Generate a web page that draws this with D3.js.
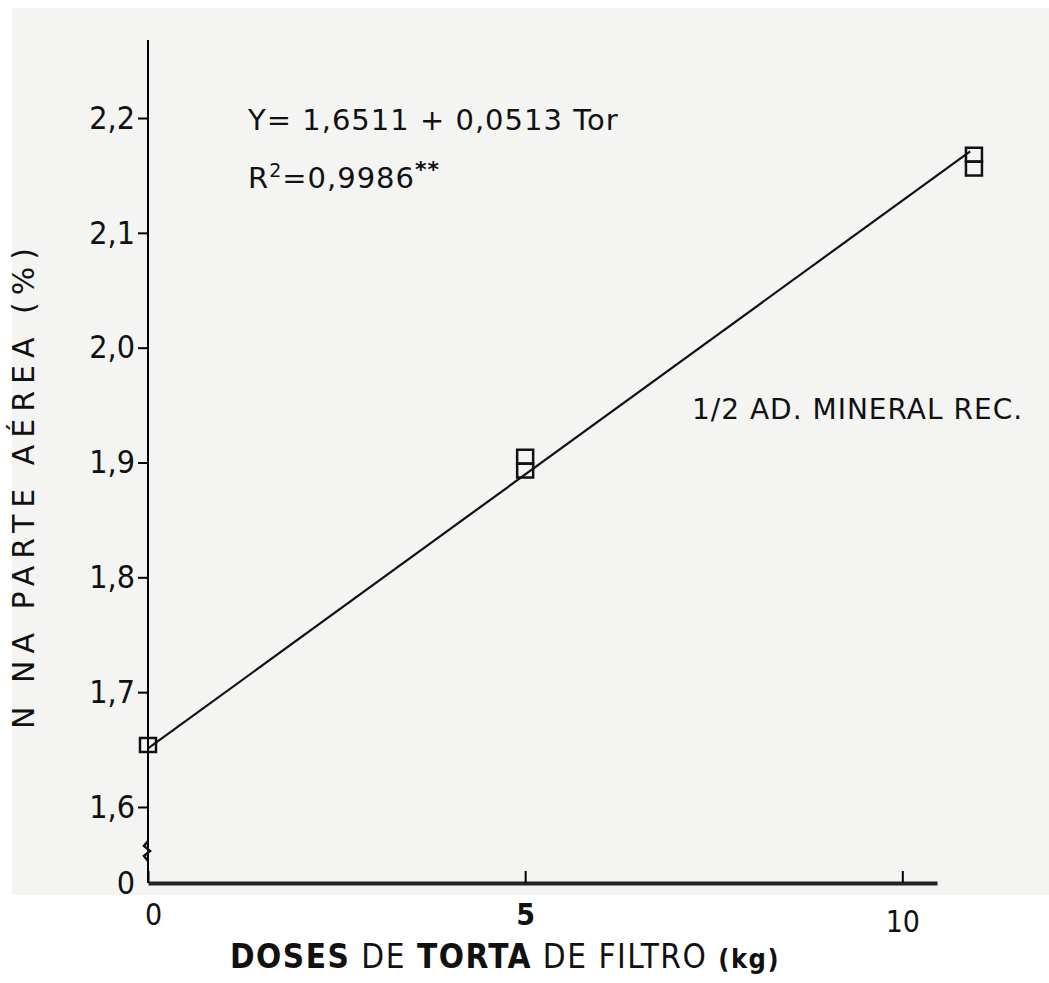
<!DOCTYPE html>
<html>
<head>
<meta charset="utf-8">
<script src="https://cdn.jsdelivr.net/npm/d3@7"></script>
<style>
  body { margin: 0; background: #fff; }
  svg text { font-family: "DejaVu Sans", sans-serif; }
</style>
</head>
<body>
<div id="chart"></div>
<script>
// N na parte aérea vs doses de torta de filtro (1/2 ad. mineral rec.)
const doses = [0, 5, 5, 10.95, 10.95];
const nValues = [1.654, 1.905, 1.893, 2.168, 2.156];
const fitX = [0, 10.9];
const fitY = [1.651, 2.171];
const yTicks = [0, 1.6, 1.7, 1.8, 1.9, 2.0, 2.1, 2.2];
const xTicks = [0, 5, 10];

const width = 1049, height = 983;
const svg = d3.select("#chart").append("svg")
  .attr("width", width)
  .attr("height", height);

// scanned paper background
svg.append("rect")
  .attr("x", 12).attr("y", 8)
  .attr("width", width - 12).attr("height", 887)
  .attr("fill", "#f4f4f3");

// broken axis: 0 sits at the bottom, then 1,6 .. 2,2
const x = d3.scaleLinear().domain([0, 10.46]).range([148, 937]);
const y = d3.scaleLinear().domain([0, 1.55, 2.2]).range([883, 864.4, 118]);

// Y axis
const yAxis = svg.append("g")
  .attr("transform", `translate(${x(0)},0)`)
  .call(d3.axisLeft(y).tickValues(yTicks).tickSize(10).tickPadding(3)
    .tickFormat(d => d === 0 ? "0" : d3.format(".1f")(d).replace(".", ",")));
yAxis.select(".domain").attr("d", `M0,${y(2.2) - 78}V${y(0)}`).attr("stroke-width", 2);
yAxis.selectAll(".tick line").attr("stroke-width", 2);
yAxis.selectAll(".tick").filter(d => d === 0).select("line").remove();
yAxis.selectAll("text")
  .style("font-family", "'DejaVu Sans Condensed', sans-serif")
  .style("font-size", "32px").attr("fill", "#111");

// axis break mark
const yb = y(1.56);
svg.append("path")
  .attr("d", `M${x(0)},${yb - 12}l-4,5l6,5l-6,5l4,5`)
  .attr("fill", "none").attr("stroke", "#111").attr("stroke-width", 2.5);

// X axis
const xAxis = svg.append("g")
  .attr("transform", `translate(0,${y(0)})`)
  .call(d3.axisBottom(x).tickValues(xTicks).tickSize(-12).tickSizeOuter(0).tickPadding(22));
xAxis.select(".domain").attr("stroke-width", 4).attr("stroke", "#222");
xAxis.selectAll(".tick line").attr("stroke-width", 2);
xAxis.selectAll("text")
  .style("font-family", "'DejaVu Sans Condensed', sans-serif")
  .style("font-size", "30px").attr("fill", "#111")
  .style("font-weight", d => d === 5 ? "bold" : "normal")
  .attr("dx", d => d === 0 ? 5 : 0)
  .attr("dy", d => d === 10 ? "0.9em" : "0.65em");

// fitted line
svg.append("path")
  .datum(fitX.map((d, i) => [d, fitY[i]]))
  .attr("d", d3.line().x(d => x(d[0])).y(d => y(d[1])))
  .attr("fill", "none").attr("stroke", "#111").attr("stroke-width", 2.2);

// observed points (open squares)
svg.selectAll(".pt")
  .data(doses.map((d, i) => [d, nValues[i]]))
  .join("rect")
  .attr("class", "pt")
  .attr("x", d => x(d[0]) - 8)
  .attr("y", d => y(d[1]) - 7)
  .attr("width", 16).attr("height", 14)
  .attr("fill", "none").attr("stroke", "#111").attr("stroke-width", 2.5);

// annotations
svg.append("text").attr("x", 248).attr("y", 130)
  .style("font-size", "29px").style("letter-spacing", "1px").attr("fill", "#111")
  .text("Y= 1,6511 + 0,0513 Tor");
const r2 = svg.append("text").attr("x", 248).attr("y", 188)
  .style("font-size", "29px").style("letter-spacing", "1px").attr("fill", "#111");
r2.append("tspan").text("R");
r2.append("tspan").attr("dy", -11).style("font-size", "19px").text("2");
r2.append("tspan").attr("dy", 11).text("=0,9986");
r2.append("tspan").attr("dy", -11).style("font-size", "22px").style("font-weight", "bold").text("**");

svg.append("text").attr("x", 692).attr("y", 419)
  .style("font-size", "28px").style("letter-spacing", "1px").attr("fill", "#111")
  .text("1/2 AD. MINERAL REC.");

// axis titles
const xt = svg.append("text")
  .attr("x", 505).attr("y", 968)
  .attr("text-anchor", "middle")
  .style("font-family", "'DejaVu Sans Condensed', sans-serif")
  .style("font-size", "33px").style("letter-spacing", "1.5px").attr("fill", "#111");
xt.append("tspan").style("font-weight", "bold").text("DOSES");
xt.append("tspan").text(" DE ");
xt.append("tspan").style("font-weight", "bold").text("TORTA");
xt.append("tspan").text(" DE FILTRO ");
xt.append("tspan").style("font-weight", "bold").style("font-size", "27px").text("(kg)");

svg.append("text")
  .attr("transform", "translate(34,485) rotate(-90)")
  .attr("text-anchor", "middle")
  .style("font-size", "30px").style("letter-spacing", "7px").attr("fill", "#111")
  .text("N NA PARTE A\u00c9REA (%)");
</script>
</body>
</html>
